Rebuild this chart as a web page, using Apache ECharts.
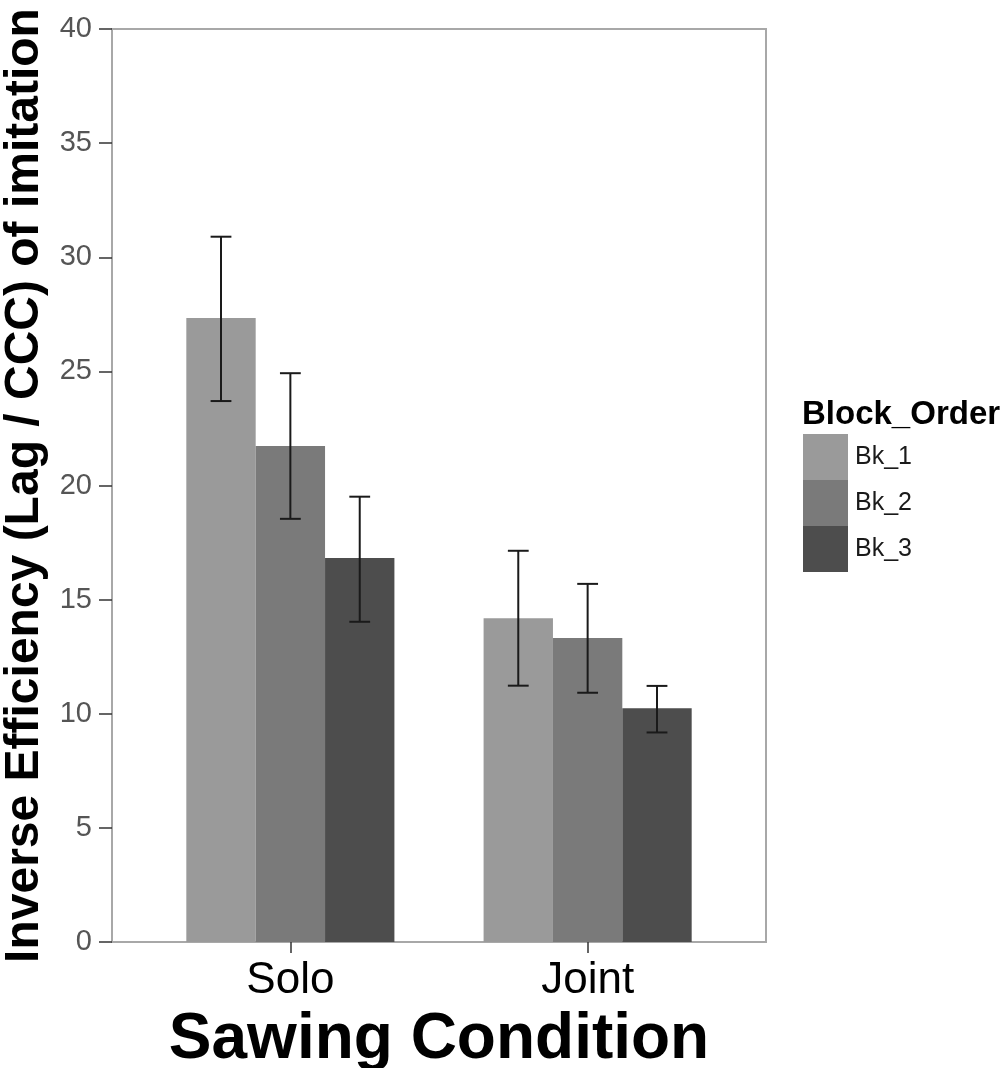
<!DOCTYPE html>
<html>
<head>
<meta charset="utf-8">
<script src="https://cdn.jsdelivr.net/npm/echarts@6/dist/echarts.min.js"></script>
<style>
html,body{margin:0;padding:0;background:#fff;}
#chart{width:1005px;height:1068px;}
</style>
</head>
<body>
<div id="chart"></div>
<script>
// ---- data ----
const categories = ['Solo', 'Joint'];
const blocks = ['Bk_1', 'Bk_2', 'Bk_3'];
const bk1Mean = [27.34, 14.18];
const bk1Low  = [23.70, 11.23];
const bk1High = [30.90, 17.14];
const bk2Mean = [21.73, 13.32];
const bk2Low  = [18.54, 10.92];
const bk2High = [24.92, 15.69];
const bk3Mean = [16.82, 10.24];
const bk3Low  = [14.03, 9.18];
const bk3High = [19.51, 11.22];
const yTicks = [0, 5, 10, 15, 20, 25, 30, 35, 40];

const blockColors = ['#9a9a9a', '#7a7a7a', '#4d4d4d'];
const means = [bk1Mean, bk2Mean, bk3Mean];
const lows = [bk1Low, bk2Low, bk3Low];
const highs = [bk1High, bk2High, bk3High];

const dodge = 0.7;
const nB = blocks.length;

function makeRender(bi) {
  return function (params, api) {
    const x = api.value(0);
    const m = api.value(1), lo = api.value(2), hi = api.value(3);
    const w = dodge / nB;
    const cx = x + (bi - (nB - 1) / 2) * w;
    const p0 = api.coord([cx - w / 2, 0]);
    const p1 = api.coord([cx + w / 2, m]);
    const pc = api.coord([cx, 0]);
    const pl = api.coord([cx, lo]);
    const ph = api.coord([cx, hi]);
    const capHalf = (p1[0] - p0[0]) * 0.15;
    const ls = {stroke: '#1a1a1a', lineWidth: 2};
    return {
      type: 'group',
      children: [
        {type: 'rect', shape: {x: p0[0], y: p1[1], width: p1[0] - p0[0], height: p0[1] - p1[1]},
         style: {fill: blockColors[bi]}},
        {type: 'line', shape: {x1: pc[0], y1: pl[1], x2: pc[0], y2: ph[1]}, style: ls},
        {type: 'line', shape: {x1: pc[0] - capHalf, y1: ph[1], x2: pc[0] + capHalf, y2: ph[1]}, style: ls},
        {type: 'line', shape: {x1: pc[0] - capHalf, y1: pl[1], x2: pc[0] + capHalf, y2: pl[1]}, style: ls}
      ]
    };
  };
}

const series = blocks.map((b, bi) => ({
  name: b,
  type: 'custom',
  renderItem: makeRender(bi),
  itemStyle: {color: blockColors[bi]},
  encode: {x: 0, y: [1, 2, 3]},
  data: categories.map((c, ci) => [ci + 1, means[bi][ci], lows[bi][ci], highs[bi][ci]]),
  z: 2
}));

const chart = echarts.init(document.getElementById('chart'), null, {renderer: 'canvas'});
chart.setOption({
  animation: false,
  backgroundColor: '#ffffff',
  textStyle: {fontFamily: 'Liberation Sans, Arial, sans-serif'},
  grid: {left: 112, top: 29, right: 239, bottom: 126, show: true, borderColor: '#a8a8a8', borderWidth: 2,
         containLabel: false, outerBoundsMode: 'none'},
  title: {
    text: 'Block_Order', left: 802, top: 398, padding: 0,
    textStyle: {fontSize: 33, fontWeight: 'bold', color: '#000', fontFamily: 'Liberation Sans, Arial, sans-serif'}
  },
  legend: {
    orient: 'vertical', left: 803, top: 434,
    itemWidth: 45, itemHeight: 46, itemGap: 0,
    icon: 'rect',
    data: blocks,
    textStyle: {fontSize: 25, color: '#1a1a1a', padding: [14, 0, 0, 2]},
    padding: 0
  },
  xAxis: {
    type: 'value', min: 0.4, max: 2.6,
    splitLine: {show: false},
    axisLine: {show: true, onZero: false, lineStyle: {color: '#a8a8a8', width: 2}},
    axisTick: {show: true, customValues: [1, 2], length: 11, lineStyle: {color: '#333', width: 1.5}},
    axisLabel: {
      customValues: [1, 2],
      formatter: v => categories[Math.round(v) - 1] || '',
      fontSize: 44, color: '#000', margin: 17
    },
    name: 'Sawing Condition', nameLocation: 'middle', nameGap: 60,
    nameTextStyle: {fontSize: 64, fontWeight: 'bold', color: '#000'}
  },
  yAxis: {
    type: 'value', min: 0, max: 40, interval: 5,
    splitLine: {show: false},
    axisLine: {show: true, lineStyle: {color: '#a8a8a8', width: 2}},
    axisTick: {show: true, length: 13, lineStyle: {color: '#333', width: 1.5}},
    axisLabel: {fontSize: 29, color: '#555', margin: 20,
      formatter: v => yTicks.indexOf(v) >= 0 ? String(v) : ''},
    name: 'Inverse Efficiency (Lag / CCC) of imitation', nameLocation: 'middle', nameGap: 52,
    nameRotate: 90,
    nameTextStyle: {fontSize: 48, fontWeight: 'bold', color: '#000'}
  },
  series: series
});
</script>
</body>
</html>
